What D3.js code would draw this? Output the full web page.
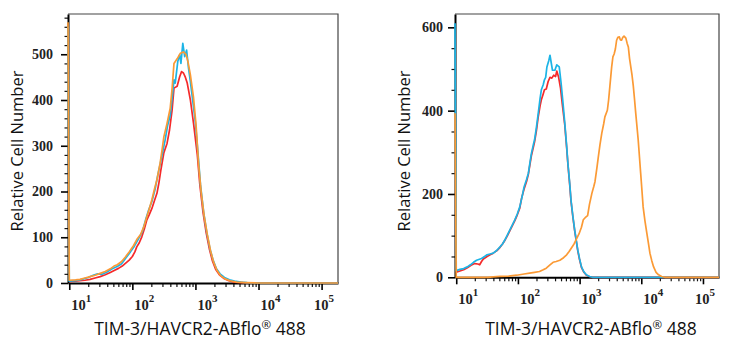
<!DOCTYPE html>
<html><head><meta charset="utf-8">
<script src="https://cdn.jsdelivr.net/npm/d3@7/dist/d3.min.js"></script>
<style>body{margin:0;background:#fff}svg{display:block}</style>
</head><body><svg id="c" width="731" height="350"></svg>
<script>
// ---- data (x as log10 of fluorescence intensity, y as cell count) ----
const decadeExponents = [1, 2, 3, 4, 5];
const leftYTicks = [0, 100, 200, 300, 400, 500];
const rightYTicks = [0, 200, 400, 600];
const xTitleParts = ["TIM-3/HAVCR2-ABflo", "\u00AE", " 488"];
const yTitle = "Relative Cell Number";

const leftRed = [[1.0,3],[1.1,4],[1.17,5],[1.25,6],[1.33,8],[1.41,11],[1.49,14],[1.57,18],[1.65,23],[1.72,28],[1.78,32],[1.84,37],[1.89,43],[1.95,50],[2.0,58],[2.04,68],[2.07,79],[2.11,88],[2.15,101],[2.19,118],[2.23,138],[2.27,150],[2.31,163],[2.35,180],[2.39,196],[2.42,218],[2.45,245],[2.5,285],[2.55,305],[2.59,335],[2.63,378],[2.66,426],[2.71,430],[2.75,451],[2.78,462],[2.81,459],[2.84,450],[2.87,437],[2.92,400],[2.97,349],[3.03,280],[3.07,215],[3.12,155],[3.17,110],[3.22,75],[3.27,48],[3.32,30],[3.38,18],[3.45,10],[3.53,5],[3.62,2],[3.75,1],[4.0,0],[5.26,0]];
const leftBlue = [[0.98,560],[1.0,4],[1.1,5],[1.2,8],[1.3,12],[1.38,17],[1.45,20],[1.52,19],[1.6,24],[1.68,31],[1.76,36],[1.83,42],[1.9,55],[1.97,68],[2.03,80],[2.1,97],[2.16,113],[2.21,138],[2.26,160],[2.31,178],[2.36,205],[2.41,240],[2.46,272],[2.52,313],[2.56,345],[2.6,366],[2.64,415],[2.66,444],[2.68,437],[2.72,484],[2.75,499],[2.77,480],[2.8,524],[2.83,495],[2.86,509],[2.89,470],[2.92,440],[2.95,407],[3.0,350],[3.04,285],[3.08,215],[3.13,155],[3.18,110],[3.23,75],[3.28,50],[3.33,32],[3.39,20],[3.46,12],[3.54,7],[3.62,4],[3.72,2],[3.82,1],[4.0,0],[5.26,0]];
const leftOrange = [[0.98,570],[1.0,6],[1.1,7],[1.17,8],[1.25,11],[1.33,14],[1.41,17],[1.49,21],[1.57,25],[1.65,31],[1.71,37],[1.76,40],[1.83,47],[1.89,57],[1.95,68],[2.02,82],[2.07,95],[2.13,106],[2.18,122],[2.23,145],[2.27,163],[2.31,182],[2.35,205],[2.39,226],[2.44,262],[2.47,290],[2.5,320],[2.55,349],[2.6,382],[2.63,425],[2.66,480],[2.71,490],[2.76,502],[2.81,505],[2.85,500],[2.88,485],[2.92,455],[2.97,405],[3.01,345],[3.05,260],[3.09,200],[3.14,145],[3.19,105],[3.24,70],[3.29,45],[3.34,28],[3.4,16],[3.47,9],[3.55,5],[3.65,2],[3.8,1],[4.0,0],[5.26,0]];

const rightRed = [[1.0,12],[1.06,15],[1.12,18],[1.18,23],[1.24,29],[1.3,33],[1.35,32],[1.38,30],[1.41,38],[1.44,44],[1.5,50],[1.55,54],[1.6,58],[1.66,64],[1.71,72],[1.75,80],[1.79,89],[1.83,100],[1.87,112],[1.91,124],[1.95,136],[1.99,150],[2.03,166],[2.06,190],[2.1,212],[2.14,230],[2.17,248],[2.2,275],[2.22,293],[2.25,312],[2.27,325],[2.3,352],[2.33,386],[2.36,412],[2.38,426],[2.41,440],[2.43,450],[2.46,452],[2.49,470],[2.52,480],[2.55,478],[2.58,485],[2.61,482],[2.63,495],[2.66,480],[2.69,455],[2.72,415],[2.76,365],[2.79,312],[2.81,272],[2.84,222],[2.86,184],[2.89,146],[2.92,112],[2.95,83],[2.97,64],[3.0,42],[3.03,24],[3.07,12],[3.11,5],[3.16,2],[3.21,0],[5.26,0]];
const rightBlue = [[0.98,610],[1.0,16],[1.06,19],[1.12,21],[1.18,25],[1.23,30],[1.28,36],[1.33,41],[1.41,45],[1.46,50],[1.5,54],[1.55,56],[1.6,58],[1.66,65],[1.71,73],[1.75,80],[1.79,90],[1.83,102],[1.87,114],[1.91,126],[1.95,138],[1.99,152],[2.03,169],[2.07,195],[2.1,217],[2.14,235],[2.17,250],[2.2,280],[2.22,298],[2.25,318],[2.27,330],[2.3,360],[2.33,394],[2.36,430],[2.38,450],[2.41,462],[2.43,474],[2.45,480],[2.47,505],[2.5,520],[2.52,533],[2.54,515],[2.56,497],[2.6,497],[2.63,510],[2.67,505],[2.7,466],[2.73,420],[2.76,370],[2.79,315],[2.81,274],[2.84,225],[2.86,186],[2.89,148],[2.92,114],[2.95,85],[2.97,66],[3.0,44],[3.03,25],[3.07,13],[3.11,6],[3.16,2],[3.21,0],[5.26,0]];
const rightOrange = [[0.98,394],[1.0,0],[1.5,0],[1.6,1],[1.71,2],[1.85,3],[1.98,5],[2.1,8],[2.19,10],[2.27,12],[2.35,14],[2.41,18],[2.46,22],[2.52,30],[2.57,36],[2.62,38],[2.68,41],[2.74,47],[2.79,54],[2.83,62],[2.87,71],[2.91,80],[2.95,92],[2.99,104],[3.03,120],[3.06,138],[3.09,143],[3.13,148],[3.16,175],[3.2,202],[3.23,218],[3.25,230],[3.28,262],[3.3,285],[3.33,318],[3.36,346],[3.39,368],[3.41,385],[3.45,401],[3.47,425],[3.49,457],[3.52,505],[3.54,529],[3.56,536],[3.58,548],[3.6,569],[3.62,576],[3.645,577],[3.66,570],[3.68,569],[3.7,576],[3.72,579],[3.75,574],[3.77,562],[3.79,553],[3.81,525],[3.83,505],[3.85,485],[3.87,460],[3.89,428],[3.91,394],[3.93,362],[3.95,330],[3.97,290],[3.99,250],[4.01,210],[4.03,169],[4.06,135],[4.09,106],[4.12,78],[4.14,58],[4.17,40],[4.2,25],[4.24,12],[4.28,6],[4.33,2],[4.38,0],[5.26,0]];

const seriesColors = { red: "#f52a2a", blue: "#1cb4e6", orange: "#fb9a35" };
const xDomainLog = [0.98, 5.26];

// ---- panels ----
const panels = [
  { left: 68, right: 338, top: 14, bottom: 283, yMax: 588, yTicks: leftYTicks, yMinorStep: 20, yPad: 8,
    series: [["red", leftRed], ["blue", leftBlue], ["orange", leftOrange]],
    yTitleX: 23, yTitleY: 151, xTitleX: 200, xTitleY: 335 },
  { left: 455, right: 719, top: 14, bottom: 277.3, yMax: 632, yTicks: rightYTicks, yMinorStep: 50, yPad: 5,
    series: [["red", rightRed], ["blue", rightBlue], ["orange", rightOrange]],
    yTitleX: 410, yTitleY: 151, xTitleX: 591, xTitleY: 335 }
];

const svg = d3.select("#c");
const serif = "'Liberation Serif','DejaVu Serif',serif";
const sans = "'Open Sans','Noto Sans',sans-serif";

panels.forEach(p => {
  const x = d3.scaleLog().domain(xDomainLog.map(v => Math.pow(10, v))).range([p.left, p.right]);
  const y = d3.scaleLinear().domain([0, p.yMax]).range([p.bottom, p.top]);
  const g = svg.append("g");

  // frame (top & right)
  g.append("path")
    .attr("d", `M${p.left},${p.top}H${p.right}V${p.bottom}`)
    .attr("fill", "none").attr("stroke", "#444").attr("stroke-width", 1.2);

  // y axis minor ticks
  const yMinor = d3.range(0, p.yMax + 0.01, p.yMinorStep).filter(v => !p.yTicks.includes(v));
  g.append("g").attr("transform", `translate(${p.left},0)`)
    .call(d3.axisLeft(y).tickValues(yMinor).tickSize(3.5).tickFormat(""))
    .call(a => a.select(".domain").remove())
    .selectAll("line").attr("stroke", "#111").attr("stroke-width", 1.2);
  // y axis major
  const ya = g.append("g").attr("transform", `translate(${p.left},0)`)
    .call(d3.axisLeft(y).tickValues(p.yTicks).tickSize(7).tickPadding(p.yPad).tickSizeOuter(0));
  ya.select(".domain").attr("stroke", "#000").attr("stroke-width", 2);
  ya.selectAll("line").attr("stroke", "#000").attr("stroke-width", 1.6);
  ya.selectAll("text").attr("font-family", serif).attr("font-size", 14).attr("font-weight", "bold").attr("fill", "#222");

  // x axis minor ticks
  const xMinor = [];
  decadeExponents.concat([0]).forEach(k => d3.range(2, 10).forEach(d => {
    const v = d * Math.pow(10, k);
    if (v > x.domain()[0] && v < x.domain()[1]) xMinor.push(v);
  }));
  g.append("g").attr("transform", `translate(0,${p.bottom})`)
    .call(d3.axisBottom(x).tickValues(xMinor).tickSize(4).tickFormat(""))
    .call(a => a.select(".domain").remove())
    .selectAll("line").attr("stroke", "#111").attr("stroke-width", 1.2);
  const xa = g.append("g").attr("transform", `translate(0,${p.bottom})`)
    .call(d3.axisBottom(x).tickValues(decadeExponents.map(k => Math.pow(10, k))).tickSize(7).tickFormat("").tickSizeOuter(0));
  xa.select(".domain").attr("stroke", "#000").attr("stroke-width", 2);
  xa.selectAll("line").attr("stroke", "#000").attr("stroke-width", 1.6);

  // decade labels 10^k
  decadeExponents.forEach(k => {
    const tx = x(Math.pow(10, k));
    const t = g.append("text")
      .attr("font-family", serif).attr("font-weight", "bold").attr("fill", "#222")
      .attr("y", p.bottom + 27);
    t.append("tspan").attr("font-size", 14.5).text("10");
    t.append("tspan").attr("font-size", 11).attr("dy", -8).text(k);
    const w = t.node().getComputedTextLength();
    let lx = tx + 2;
    if (lx + w > p.right - 4) lx = p.right - 4 - w;
    t.attr("x", lx);
  });

  // curves
  const line = d3.line().x(d => x(Math.pow(10, d[0]))).y(d => y(d[1])).curve(d3.curveLinear);
  p.series.forEach(([name, data]) => {
    g.append("path").datum(data).attr("d", line)
      .attr("fill", "none").attr("stroke", seriesColors[name]).attr("stroke-width", 1.7)
      .attr("stroke-linejoin", "round");
  });

  // titles
  const xt = g.append("text").attr("x", p.xTitleX).attr("y", p.xTitleY).attr("text-anchor", "middle")
    .attr("font-family", sans).attr("font-size", 17.5).attr("fill", "#111");
  xt.append("tspan").text(xTitleParts[0]);
  xt.append("tspan").attr("font-size", 11.5).attr("dy", -6.5).text(xTitleParts[1]);
  xt.append("tspan").attr("dy", 6.5).text(xTitleParts[2]);
  g.append("text").attr("transform", `translate(${p.yTitleX},${p.yTitleY}) rotate(-90)`)
    .attr("text-anchor", "middle")
    .attr("font-family", sans).attr("font-size", 16.5).attr("fill", "#111").text(yTitle);
});
</script></body></html>
